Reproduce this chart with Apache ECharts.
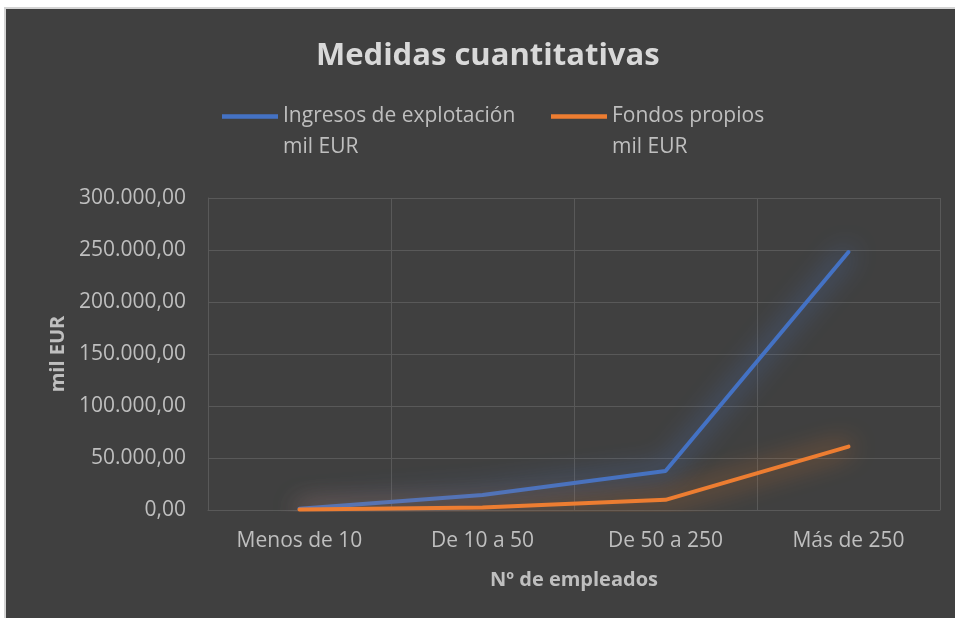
<!DOCTYPE html>
<html>
<head>
<meta charset="utf-8">
<title>Medidas cuantitativas</title>
<script src="https://cdn.jsdelivr.net/npm/echarts@6/dist/echarts.min.js"></script>
<style>
  html, body { margin: 0; padding: 0; background: #ffffff; }
  #frame {
    position: absolute; left: 4px; top: 7px; width: 951px; height: 611px;
    background: #d4d4d4;
  }
  #chart {
    position: absolute; left: 6px; top: 9px; width: 949px; height: 609px;
    background: #404040;
  }
</style>
</head>
<body>
<div id="frame"></div>
<div id="chart"></div>
<script>
  // datos (mil EUR)
  const categorias = ['Menos de 10', 'De 10 a 50', 'De 50 a 250', 'Más de 250'];
  const ingresos = [1200, 14500, 37500, 248000];
  const fondos = [400, 2500, 9800, 61000];
  const nombreIngresos = 'Ingresos de explotación\nmil EUR';
  const nombreFondos = 'Fondos propios\nmil EUR';

  const fuente = '"Open Sans", "Noto Sans", sans-serif';
  const gris = '#bfbfbf';

  // 300000 -> "300.000,00"
  function formatoEs(v) {
    const ent = Math.round(v).toString().replace(/\B(?=(\d{3})+(?!\d))/g, '.');
    return ent + ',00';
  }

  // leyenda: una linea vacia delante para que el icono quede en la primera linea
  function leyenda(nombre, left) {
    return {
      data: [nombre],
      top: 61,
      left: left,
      padding: 0,
      itemWidth: 56,
      itemHeight: 14,
      icon: 'path://M0,0 L56,0 L56,4.5 L0,4.5 Z',
      formatter: '\n{name}',
      selectedMode: false,
      textStyle: {
        color: gris,
        fontSize: 21,
        lineHeight: 31,
        fontFamily: fuente
      }
    };
  }

  const chart = echarts.init(document.getElementById('chart'));
  chart.setOption({
    backgroundColor: '#404040',
    animation: false,
    textStyle: { fontFamily: fuente },
    title: {
      text: 'Medidas cuantitativas',
      left: 305,
      top: 27,
      textStyle: { color: '#d9d9d9', fontSize: 31, fontWeight: 'bold', fontFamily: fuente }
    },
    legend: [
      leyenda(nombreIngresos, 216),
      leyenda(nombreFondos, 545)
    ],
    grid: {
      left: 202,
      right: 15,
      top: 189,
      bottom: 108,
      containLabel: false
    },
    xAxis: {
      type: 'category',
      data: categorias,
      boundaryGap: true,
      name: 'Nº de empleados',
      nameLocation: 'middle',
      nameGap: 60,
      nameTextStyle: { color: gris, fontSize: 20, fontWeight: 'bold' },
      axisLine: { show: true, lineStyle: { color: '#595959', width: 1 } },
      axisTick: { show: false },
      axisLabel: { color: gris, fontSize: 21, margin: 21 },
      splitLine: { show: true, lineStyle: { color: '#595959', width: 1 } }
    },
    yAxis: {
      type: 'value',
      min: 0,
      max: 300000,
      interval: 50000,
      name: 'mil EUR',
      nameLocation: 'middle',
      nameGap: 140,
      nameRotate: 90,
      nameTextStyle: { color: gris, fontSize: 20, fontWeight: 'bold' },
      axisLine: { show: true, lineStyle: { color: '#595959', width: 1 } },
      axisTick: { show: false },
      axisLabel: { color: gris, fontSize: 21, margin: 22, formatter: formatoEs },
      splitLine: { show: true, lineStyle: { color: '#595959', width: 1 } }
    },
    series: [
      {
        name: nombreIngresos,
        type: 'line',
        data: ingresos,
        symbol: 'none',
        color: '#4472c4',
        lineStyle: {
          width: 4,
          color: '#4472c4',
          shadowBlur: 26,
          shadowColor: 'rgba(80,130,220,1)',
          cap: 'round'
        }
      },
      {
        name: nombreFondos,
        type: 'line',
        data: fondos,
        symbol: 'none',
        color: '#ed7d31',
        lineStyle: {
          width: 4,
          color: '#ed7d31',
          shadowBlur: 26,
          shadowColor: 'rgba(245,130,40,1)',
          cap: 'round'
        }
      }
    ]
  });
</script>
</body>
</html>
